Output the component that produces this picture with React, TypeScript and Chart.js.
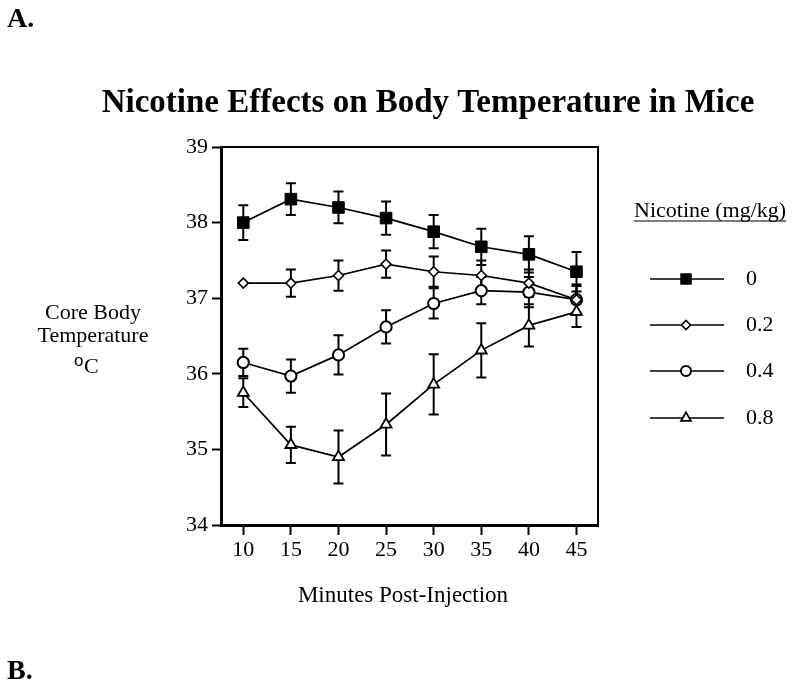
import React, { useEffect, useRef } from 'react';
import { Chart, registerables } from 'chart.js';
import { drawPoint } from 'chart.js/helpers';

Chart.register(...registerables);

// ---- data ----
const minutes = [10, 15, 20, 25, 30, 35, 40, 45];
const xTicks = [10, 15, 20, 25, 30, 35, 40, 45];
const yTicks = [34, 35, 36, 37, 38, 39];
const doseLabels = ['0', '0.2', '0.4', '0.8'];

const temp0 = [38.0, 38.31, 38.2, 38.06, 37.88, 37.68, 37.58, 37.35];
const sem0 = [0.23, 0.21, 0.21, 0.22, 0.22, 0.24, 0.24, 0.26];
const temp02 = [37.2, 37.2, 37.3, 37.45, 37.35, 37.3, 37.2, 36.98];
const sem02 = [0, 0.18, 0.2, 0.18, 0.2, 0.2, 0.18, 0.18];
const temp04 = [36.15, 35.97, 36.25, 36.62, 36.93, 37.1, 37.08, 36.98];
const sem04 = [0.18, 0.22, 0.26, 0.22, 0.2, 0.18, 0.2, 0.2];
const temp08 = [35.75, 35.06, 34.9, 35.33, 35.86, 36.31, 36.64, 36.82];
const sem08 = [0.19, 0.24, 0.35, 0.41, 0.4, 0.36, 0.28, 0.2];

const titleText = 'Nicotine Effects on Body Temperature in Mice';
const xLabel = 'Minutes Post-Injection';
const yLabelLines = ['Core Body', 'Temperature'];
const legendTitle = 'Nicotine (mg/kg)';

const SERIF = '"Liberation Serif", "Times New Roman", serif';

const temps = [temp0, temp02, temp04, temp08];
const sems = [sem0, sem02, sem04, sem08];

const styles = [
  { pointStyle: 'rect', radius: 8.2, fill: '#000', bw: 1 },
  { pointStyle: 'rectRot', radius: 5, fill: '#fff', bw: 1.6 },
  { pointStyle: 'circle', radius: 5.6, fill: '#fff', bw: 2 },
  { pointStyle: 'triangle', radius: 6.3, fill: '#fff', bw: 1.8 },
];

const errorBars = {
  id: 'errorBars',
  beforeDatasetsDraw(chart: any) {
    const ctx = chart.ctx;
    const xs = chart.scales.x;
    const ys = chart.scales.y;
    ctx.save();
    ctx.strokeStyle = '#000';
    ctx.lineWidth = 2;
    temps.forEach((series, i) => {
      series.forEach((v, j) => {
        const e = sems[i][j];
        if (!e) return;
        const x = xs.getPixelForValue(minutes[j]);
        const yt = ys.getPixelForValue(v + e);
        const yb = ys.getPixelForValue(v - e);
        ctx.beginPath();
        ctx.moveTo(x, yt);
        ctx.lineTo(x, yb);
        ctx.moveTo(x - 5, yt);
        ctx.lineTo(x + 5, yt);
        ctx.moveTo(x - 5, yb);
        ctx.lineTo(x + 5, yb);
        ctx.stroke();
      });
    });
    ctx.restore();
  },
};

const annotations = {
  id: 'annotations',
  afterDraw(chart: any) {
    const ctx = chart.ctx;
    const ca = chart.chartArea;
    ctx.save();
    // top and right frame
    ctx.strokeStyle = '#000';
    ctx.lineWidth = 2;
    ctx.beginPath();
    ctx.moveTo(ca.left, ca.top);
    ctx.lineTo(ca.right, ca.top);
    ctx.lineTo(ca.right, ca.bottom);
    ctx.stroke();

    ctx.fillStyle = '#000';
    ctx.textBaseline = 'alphabetic';
    // panel letters
    ctx.textAlign = 'left';
    ctx.font = `bold 28px ${SERIF}`;
    ctx.fillText('A.', 7, 27);
    ctx.fillText('B.', 7, 679);

    // title
    ctx.textAlign = 'center';
    ctx.font = `bold 33px ${SERIF}`;
    ctx.fillText(titleText, 428, 112);

    // x label
    ctx.font = `23px ${SERIF}`;
    ctx.fillText(xLabel, 403, 602);

    // y label
    ctx.font = `22px ${SERIF}`;
    ctx.fillText(yLabelLines[0], 93, 319);
    ctx.fillText(yLabelLines[1], 93, 342);
    ctx.textAlign = 'left';
    ctx.font = `17px "Liberation Sans", Arial, sans-serif`;
    ctx.fillText('o', 74, 366);
    ctx.font = `22px ${SERIF}`;
    ctx.fillText('C', 84, 373);

    // legend
    ctx.font = `22px ${SERIF}`;
    ctx.textAlign = 'left';
    ctx.fillText(legendTitle, 634, 217);
    const w = ctx.measureText(legendTitle).width;
    ctx.lineWidth = 1.2;
    ctx.beginPath();
    ctx.moveTo(634, 221);
    ctx.lineTo(634 + w, 221);
    ctx.stroke();

    const rows = [279, 325, 371, 418];
    doseLabels.forEach((lab, i) => {
      const y = rows[i];
      const s = styles[i];
      ctx.strokeStyle = '#000';
      ctx.lineWidth = 1.6;
      ctx.beginPath();
      ctx.moveTo(650, y);
      ctx.lineTo(724, y);
      ctx.stroke();
      ctx.fillStyle = s.fill;
      ctx.strokeStyle = '#000';
      ctx.lineWidth = s.bw;
      drawPoint(ctx, { pointStyle: s.pointStyle as any, radius: s.radius * 0.9, rotation: 0, borderWidth: s.bw }, 686, y);
      ctx.fillStyle = '#000';
      ctx.font = `22px ${SERIF}`;
      ctx.textBaseline = 'middle';
      ctx.fillText(lab, 746, y);
      ctx.textBaseline = 'alphabetic';
    });
    ctx.restore();
  },
};

export default function App() {
  const ref = useRef<HTMLCanvasElement | null>(null);
  useEffect(() => {
    if (!ref.current) return;
    const chart = new Chart(ref.current, {
      type: 'line',
      data: {
        datasets: temps.map((series, i) => ({
          label: doseLabels[i],
          data: series.map((v, j) => ({ x: minutes[j], y: v })),
          borderColor: '#000',
          borderWidth: 1.7,
          pointStyle: styles[i].pointStyle as any,
          pointRadius: styles[i].radius,
          pointBackgroundColor: styles[i].fill,
          pointBorderColor: '#000',
          pointBorderWidth: styles[i].bw,
          tension: 0,
          clip: false as any,
        })),
      },
      options: {
        animation: false,
        responsive: false,
        devicePixelRatio: 1,
        layout: { padding: { left: 161, top: 147, right: 202, bottom: 116 } },
        plugins: {
          legend: { display: false },
          tooltip: { enabled: false },
          title: { display: false },
        },
        scales: {
          x: {
            type: 'linear',
            min: 7.66,
            max: 47.26,
            afterBuildTicks: (ax: any) => {
              ax.ticks = xTicks.map((v) => ({ value: v }));
            },
            afterFit: (s: any) => {
              s.height = 45;
            },
            grid: { drawOnChartArea: false, drawTicks: true, tickLength: 10, tickWidth: 2, tickColor: '#000' },
            border: { display: true, color: '#000', width: 3 },
            ticks: { color: '#000', font: { family: SERIF, size: 22 }, padding: 2, maxRotation: 0, autoSkip: false },
          },
          y: {
            type: 'linear',
            min: 34,
            max: 39,
            afterBuildTicks: (ax: any) => {
              ax.ticks = yTicks.map((v) => ({ value: v }));
            },
            afterFit: (s: any) => {
              s.width = 60;
            },
            grid: { drawOnChartArea: false, drawTicks: true, tickLength: 9, tickWidth: 2, tickColor: '#000' },
            border: { display: true, color: '#000', width: 3 },
            ticks: { color: '#000', font: { family: SERIF, size: 22 }, padding: 4, autoSkip: false },
          },
        },
      },
      plugins: [errorBars, annotations],
    });
    return () => chart.destroy();
  }, []);
  return (
    <div style={{ position: 'absolute', left: 0, top: 0, width: 800, height: 686, background: '#fff' }}>
      <canvas ref={ref} width={800} height={686} style={{ display: 'block', width: 800, height: 686 }} />
    </div>
  );
}
